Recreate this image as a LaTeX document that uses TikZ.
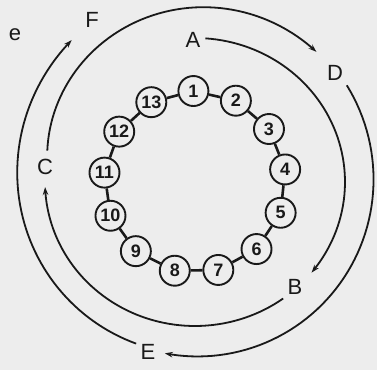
\documentclass[tikz,border=0pt]{standalone}
\usepackage{fontspec}
\setmainfont{Liberation Sans}
\usetikzlibrary{arrows.meta}

\begin{document}
\begin{tikzpicture}[
  x=1pt, y=1pt,
  every node/.style={font=\fontsize{22}{22}\selectfont, text=black!90, inner sep=0pt},
  num/.style={draw=black!90, line width=1.9pt, circle, minimum size=30pt, inner sep=0pt, font=\fontsize{18}{18}\selectfont\bfseries},
  link/.style={line width=2.6pt, draw=black!90},
  orbit/.style={-{Stealth[length=8pt, width=5.5pt]}, line width=1.8pt, draw=black!90}
]

  % Fondo e limiti
  \fill[gray!14] (-195,-188) rectangle (182,182);
  \useasboundingbox (-195,-188) rectangle (182,182);

  % Anello dei cerchi numerati
  \foreach \k in {1,...,13}
    \node[num] (n\k) at ({91-(\k-1)*360/13}:91) {\k};
  \foreach \k [remember=\k as \prev (initially 13)] in {1,...,13}
    \draw[link] (n\prev) -- (n\k);

  % Lettere
  \node (e) at (-180,147) {e};
  \node (F) at (-103,162) {F};
  \node (A) at (-2,142) {A};
  \node (D) at (140,109) {D};
  \node (C) at (-150,15) {C};
  \node (B) at (100,-105) {B};
  \node (E) at (-47,-170) {E};

  % Archi interni (A -> B -> C)
  \draw[orbit] plot[domain=86:-39, samples=60] ({150*cos(\x)}, {144*sin(\x)});
  \draw[orbit] plot[domain=-54:-178, samples=60] ({150*cos(\x)}, {144*sin(\x)});

  % Passaggio all'anello esterno (C -> D)
  \draw[orbit] plot[domain=168:47, samples=60] (\x:{178-27*((\x-47)/121)^2});

  % Archi esterni (D -> E -> F)
  \draw[orbit] plot[domain=32.5:-100, samples=60] (\x:{174+6*(\x+100)/132.5});
  \draw[orbit] plot[domain=250:131, samples=60] (\x:{172+16*((250-\x)/119)^2});

\end{tikzpicture}
\end{document}
